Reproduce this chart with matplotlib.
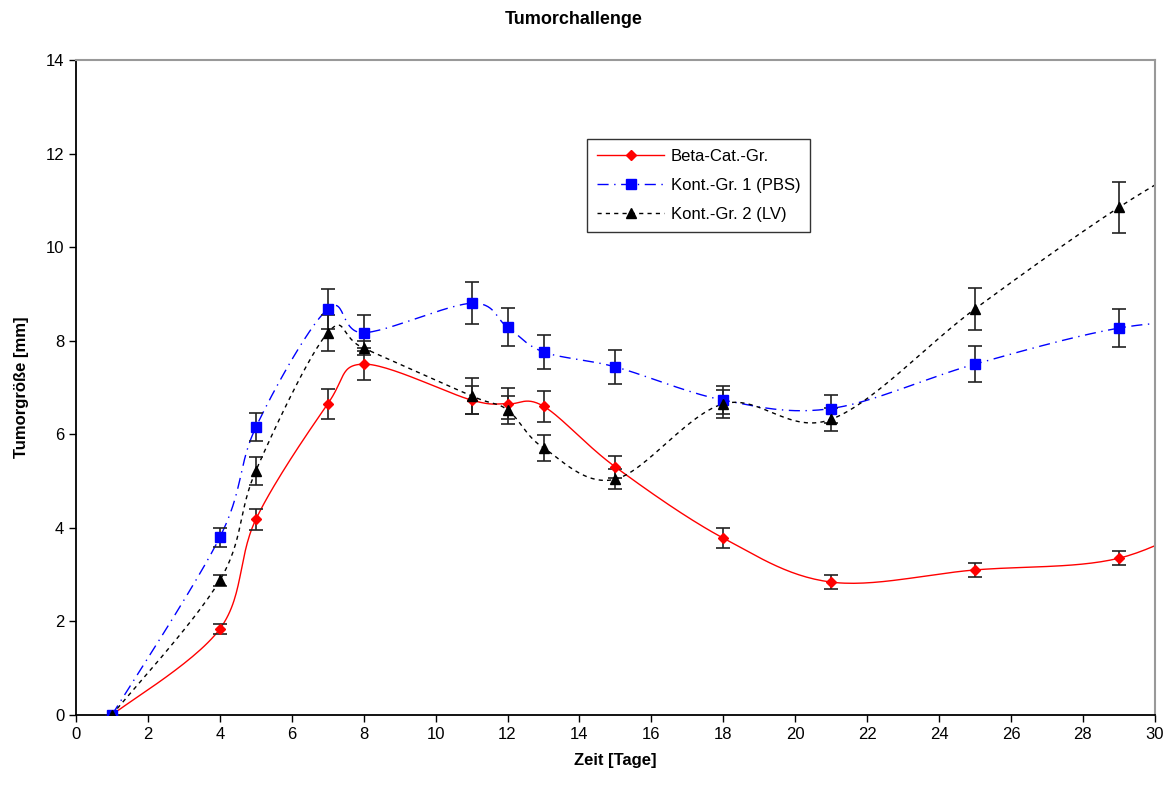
import numpy as np
import matplotlib
matplotlib.use("Agg")
import matplotlib.pyplot as plt

plt.rcParams['font.family'] = ['Liberation Sans', 'DejaVu Sans']

# ---- data ----
days = [1, 4, 5, 7, 8, 11, 12, 13, 15, 18, 21, 25, 29]
beta = [0.0, 1.84, 4.18, 6.65, 7.50, 6.73, 6.65, 6.60, 5.30, 3.78, 2.84, 3.10, 3.35]
beta_err = [0.0, 0.10, 0.22, 0.32, 0.35, 0.30, 0.33, 0.33, 0.23, 0.22, 0.15, 0.15, 0.15]
pbs = [0.0, 3.80, 6.15, 8.68, 8.17, 8.80, 8.29, 7.76, 7.44, 6.73, 6.55, 7.50, 8.27]
pbs_err = [0.0, 0.20, 0.30, 0.43, 0.38, 0.45, 0.41, 0.37, 0.36, 0.30, 0.30, 0.38, 0.40]
lv = [0.0, 2.88, 5.22, 8.17, 7.84, 6.82, 6.52, 5.71, 5.04, 6.65, 6.32, 8.68, 10.85]
lv_err = [0.0, 0.12, 0.30, 0.38, 0.15, 0.38, 0.30, 0.28, 0.22, 0.30, 0.25, 0.45, 0.55]
# values beyond the visible x-range (line continues past the axis edge)
extra_day = 32
beta_extra = 4.4
pbs_extra = 8.45
lv_extra = 12.2

labels = ['Beta-Cat.-Gr.', 'Kont.-Gr. 1 (PBS)', 'Kont.-Gr. 2 (LV)']


def smooth(x, y, xs=30.0, ys=14.0, n=30):
    # Catmull-Rom / Excel-like smoothing in normalized space
    px = np.asarray(x, float) / xs
    py = np.asarray(y, float) / ys
    P = np.column_stack([px, py])
    out = [P[0]]
    for i in range(len(P) - 1):
        p0 = P[i - 1] if i > 0 else P[i]
        p1 = P[i]
        p2 = P[i + 1]
        p3 = P[i + 2] if i + 2 < len(P) else P[i + 1]
        c1 = p1 + (p2 - p0) / 6.0
        c2 = p2 - (p3 - p1) / 6.0
        t = np.linspace(0, 1, n)[1:, None]
        seg = ((1 - t) ** 3) * p1 + 3 * ((1 - t) ** 2) * t * c1 + 3 * (1 - t) * t ** 2 * c2 + t ** 3 * p2
        out.extend(seg)
    out = np.array(out)
    return out[:, 0] * xs, out[:, 1] * ys


fig = plt.figure(figsize=(11.7, 7.9), dpi=100)
ax = fig.add_axes([0.065, 0.095, 0.922, 0.829])

series = [
    (beta, beta_err, beta_extra, 'red', '-', 'D', 5.5, None),
    (pbs, pbs_err, pbs_extra, '#0000ff', '-.', 's', 6.5, (0, (8, 4, 1, 4))),
    (lv, lv_err, lv_extra, 'black', '--', '^', 6.5, (0, (3, 3))),
]

handles = []
for (vals, err, extra, col, ls, mk, ms, dash), lab in zip(series, labels):
    sx, sy = smooth(days + [extra_day], vals + [extra])
    ln, = ax.plot(sx, sy, color=col, lw=1.0, linestyle=dash if dash else ls, zorder=2)
    ax.errorbar(days, vals, yerr=err, fmt='none', ecolor='#222222', elinewidth=1.2,
                capsize=5, capthick=1.2, zorder=3)
    ax.plot(days, vals, linestyle='none', marker=mk, markersize=ms, color=col,
            markeredgecolor=col, zorder=4)
    h, = ax.plot([], [], color=col, lw=1.0, linestyle=dash if dash else ls,
                 marker=mk, markersize=ms, markeredgecolor=col)
    handles.append(h)

ax.set_xlim(0, 30)
ax.set_ylim(0, 14)
ax.set_xticks(np.arange(0, 31, 2))
ax.set_yticks(np.arange(0, 15, 2))
ax.tick_params(direction='out', length=5, width=1, labelsize=12, colors='black')
ax.spines['top'].set_color('#999999')
ax.spines['right'].set_color('#999999')
ax.spines['top'].set_linewidth(1.5)
ax.spines['right'].set_linewidth(1.5)
ax.spines['left'].set_linewidth(1.3)
ax.spines['bottom'].set_linewidth(1.3)

ax.set_xlabel('Zeit [Tage]', fontsize=12, fontweight='bold', labelpad=8)
ax.set_ylabel('Tumorgröße [mm]', fontsize=12, fontweight='bold', labelpad=12)
fig.text(0.49, 0.975, 'Tumorchallenge', ha='center', va='center', fontsize=13, fontweight='bold')

leg = ax.legend(handles, labels, loc='upper left', bbox_to_anchor=(0.474, 0.88),
                fontsize=12, frameon=True, fancybox=False, edgecolor='black',
                handlelength=4.0, borderpad=0.6, labelspacing=0.85, handletextpad=0.4,
                borderaxespad=0)
leg.get_frame().set_linewidth(1.0)

fig.savefig('out.png', dpi=100)
